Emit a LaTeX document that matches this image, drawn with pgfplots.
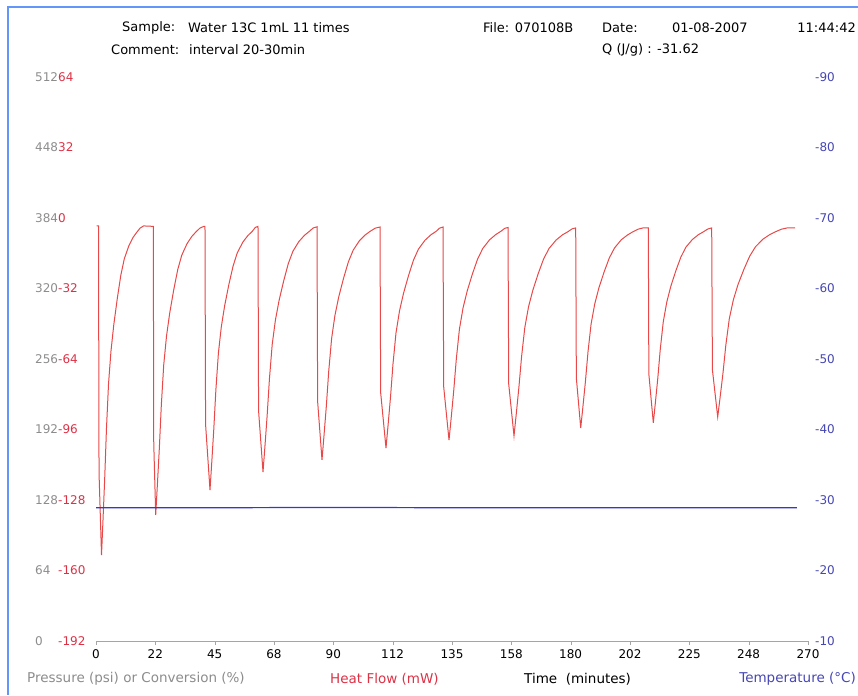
\documentclass[border=0pt]{standalone}
\usepackage{fontspec}
\setmainfont{DejaVu Sans}
\usepackage{pgfplots}
\pgfplotsset{compat=1.18}

\definecolor{hfred}{RGB}{232,72,72}
\definecolor{hflabel}{RGB}{220,50,70}
\definecolor{tblue}{RGB}{55,55,205}
\definecolor{tlabel}{RGB}{70,70,180}
\definecolor{plabel}{RGB}{140,140,140}
\definecolor{axgray}{RGB}{165,165,165}
\definecolor{frameblue}{RGB}{100,150,250}

\pgfplotsset{
  common/.style={
    scale only axis, width=712pt, height=564pt,
    at={(0,0)}, anchor=south west,
    xmin=0, xmax=270,
    /pgf/number format/assume math mode=true,
    tick label style={font=\fontsize{12}{14}\selectfont},
  },
}

\begin{document}
\begin{tikzpicture}
\path[use as bounding box] (-96pt,-54pt) rectangle (762pt,641pt);

% frame lines at top and left
\draw[frameblue, line width=1.3pt] (-88pt,-54pt) -- (-88pt,634pt) -- (762pt,634pt);

% pressure / conversion scale (gray labels only)
\begin{axis}[common,
  hide x axis,
  axis y line*=left, y axis line style={draw=none}, ytick style={draw=none},
  ymin=0, ymax=512, ytick={0,64,...,512},
  yticklabel style={plabel, anchor=west, inner sep=0pt, xshift=-61pt},
]
\end{axis}

% heat flow
\begin{axis}[common,
  axis x line*=bottom, axis y line*=left,
  x axis line style={axgray, -}, y axis line style={draw=none},
  xtick={0,22.5,...,270},
  xticklabels={0,22,45,68,90,112,135,158,180,202,225,248,270},
  xtick align=outside, major tick length=4pt,
  xtick style={axgray},
  xticklabel style={black, yshift=-1pt},
  ymin=-192, ymax=64, ytick={-192,-160,...,64},
  ytick style={draw=none},
  yticklabel style={hflabel, anchor=west, inner sep=0pt, xshift=-38pt},
]
\addplot[hfred, line width=1pt] coordinates {
  (0.2,-3.6) (0.95,-3.6) (1.15,-115.7) (2.09,-153.0) (2.62,-138.1) (3.29,-118.6)
  (3.95,-96.2) (4.75,-75.3) (5.68,-60.4) (6.75,-48.4) (8.08,-36.5) (9.41,-26.0)
  (10.74,-18.5) (12.46,-12.6) (14.06,-8.8) (15.39,-6.6) (16.7,-4.6) (18.05,-3.6) (21.73,-3.8)
  (21.9,-102.1) (22.64,-134.8) (23.25,-121.7) (24.01,-104.7) (24.77,-85.0)
  (25.68,-66.7) (26.74,-53.6) (27.96,-43.1) (29.48,-32.6) (31.00,-23.4)
  (32.52,-16.9) (34.50,-11.7) (36.32,-8.4) (37.84,-6.4) (39.4,-4.6) (40.88,-3.8) (41.33,-3.8)
  (41.55,-93.6) (43.23,-123.5) (43.87,-111.5) (44.66,-96.0) (45.46,-78.0)
  (46.42,-61.3) (47.53,-49.3) (48.81,-39.7) (50.40,-30.1) (51.99,-21.8)
  (53.58,-15.8) (55.66,-11.0) (57.57,-8.0) (59.16,-6.2) (60.4,-4.3) (61.43,-3.8)
  (61.65,-87.5) (63.33,-115.3) (64.03,-104.2) (64.90,-89.7) (65.77,-73.0)
  (66.82,-57.4) (68.04,-46.3) (69.43,-37.4) (71.18,-28.5) (72.92,-20.7)
  (74.67,-15.1) (76.93,-10.7) (79.03,-7.9) (80.77,-6.2) (82.4,-4.5) (83.81,-4.0)
  (84.05,-83.4) (85.70,-109.8) (86.43,-99.2) (87.34,-85.5) (88.25,-69.6)
  (89.34,-54.8) (90.61,-44.2) (92.07,-35.7) (93.89,-27.3) (95.71,-19.9)
  (97.53,-14.6) (99.90,-10.3) (102.08,-7.7) (103.90,-6.1) (105.9,-4.6) (107.70,-4.1)
  (107.95,-79.3) (109.97,-104.4) (110.73,-94.4) (111.68,-81.3) (112.62,-66.3)
  (113.76,-52.2) (115.09,-42.2) (116.61,-34.2) (118.50,-26.2) (120.40,-19.1)
  (122.29,-14.1) (124.76,-10.1) (127.03,-7.6) (128.93,-6.1) (130.3,-4.6) (131.59,-4.1)
  (131.85,-76.6) (133.87,-100.8) (134.66,-91.1) (135.64,-78.6) (136.63,-64.1)
  (137.81,-50.5) (139.19,-40.8) (140.77,-33.1) (142.74,-25.4) (144.72,-18.6)
  (146.69,-13.8) (149.25,-9.9) (151.62,-7.5) (153.59,-6.0) (155.0,-4.7) (156.24,-4.3)
  (156.5,-75.3) (158.51,-98.9) (159.33,-89.4) (160.35,-77.1) (161.38,-63.0)
  (162.61,-49.7) (164.04,-40.2) (165.68,-32.7) (167.73,-25.1) (169.77,-18.5)
  (171.82,-13.8) (174.48,-10.0) (176.94,-7.6) (178.99,-6.2) (180.6,-4.9) (181.91,-4.5)
  (182.15,-72.6) (183.81,-95.3) (184.60,-86.2) (185.58,-74.4) (186.57,-60.8)
  (187.75,-48.1) (189.13,-39.0) (190.71,-31.7) (192.68,-24.5) (194.66,-18.1)
  (196.63,-13.6) (199.19,-9.9) (201.56,-7.7) (203.53,-6.3) (205.5,-5.1) (207.47,-4.5) (209.44,-4.5)
  (209.65,-70.9) (211.34,-93.0) (212.10,-84.1) (213.05,-72.6) (213.99,-59.4)
  (215.13,-47.0) (216.46,-38.1) (217.98,-31.0) (219.87,-24.0) (221.77,-17.8)
  (223.66,-13.3) (226.13,-9.8) (228.40,-7.6) (230.30,-6.3) (232.0,-5.0) (233.48,-4.5)
  (233.75,-68.9) (235.76,-90.3) (236.64,-81.7) (237.74,-70.6) (238.84,-57.7)
  (240.16,-45.7) (241.70,-37.1) (243.46,-30.2) (245.66,-23.4) (247.86,-17.4)
  (250.06,-13.1) (252.92,-9.6) (255.56,-7.5) (257.76,-6.2) (259.9,-5.1) (262.16,-4.5) (265.1,-4.5)
};
\end{axis}

% temperature (reversed right scale)
\begin{axis}[common,
  hide x axis,
  axis y line*=right, y axis line style={draw=none}, ytick style={draw=none},
  ymin=-90, ymax=-10, y dir=reverse, ytick={-90,-80,...,-10},
  yticklabel style={tlabel, anchor=west, inner sep=0pt, xshift=7pt},
]
\addplot[tblue, line width=1.2pt] coordinates {
  (0,-28.9) (45,-28.9) (90,-28.95) (135,-28.9) (180,-28.9) (225,-28.9) (265.8,-28.9)
};
\end{axis}

% header
\begin{scope}[every node/.style={font=\fontsize{13}{15}\selectfont, inner sep=0pt}]
\node[anchor=west] at (26pt,613pt) {Sample:};
\node[anchor=west] at (92pt,613pt) {Water 13C 1mL 11 times};
\node[anchor=west] at (15pt,591pt) {Comment:};
\node[anchor=west] at (93pt,591pt) {interval 20-30min};
\node[anchor=west] at (387pt,613pt) {File: 070108B};
\node[anchor=west] at (506pt,613pt) {Date:};
\node[anchor=west] at (576pt,613pt) {01-08-2007};
\node[anchor=east] at (760pt,613pt) {11:44:42};
\node[anchor=west] at (506pt,591pt) {Q (J/g) : -31.62};
\end{scope}

% axis titles along the bottom
\begin{scope}[every node/.style={font=\fontsize{13.5}{15}\selectfont, inner sep=0pt}]
\node[anchor=west, plabel] at (-69pt,-38pt) {Pressure (psi) or Conversion (\%)};
\node[anchor=west, hflabel] at (234pt,-38pt) {Heat Flow (mW)};
\node[anchor=west, black] at (428pt,-38pt) {Time\ \ (minutes)};
\node[anchor=east, tlabel] at (760pt,-38pt) {Temperature (°C)};
\end{scope}
\end{tikzpicture}
\end{document}
